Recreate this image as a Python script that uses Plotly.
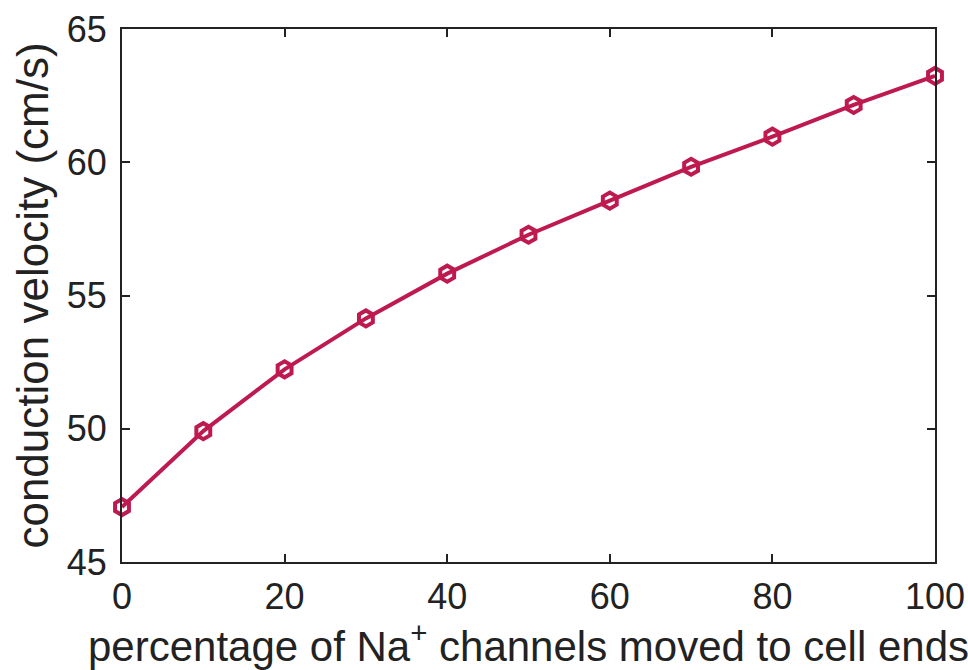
import plotly.graph_objects as go

# percentage of Na+ channels relocated to the cell ends
pct_moved = [0, 10, 20, 30, 40, 50, 60, 70, 80, 90, 100]
# resulting conduction velocity (cm/s)
velocity = [47.06, 49.91, 52.23, 54.14, 55.82, 57.28, 58.56, 59.83, 60.96, 62.15, 63.24]

x_ticks = [0, 20, 40, 60, 80, 100]
y_ticks = [45, 50, 55, 60, 65]

line_color = "#BE1A50"
axis_color = "#222222"
font_family = "Liberation Sans, Arial, sans-serif"

fig = go.Figure(
    go.Scatter(
        x=pct_moved,
        y=velocity,
        mode="lines+markers",
        line=dict(color=line_color, width=4),
        marker=dict(symbol="hexagon-open", size=16, color=line_color,
                    line=dict(width=4, color=line_color)),
        cliponaxis=False,
    )
)

axis_common = dict(
    showline=True, linecolor=axis_color, linewidth=2, mirror="ticks",
    ticks="inside", ticklen=8, tickwidth=1.5, tickcolor=axis_color,
    showgrid=False, zeroline=False,
    tickfont=dict(family=font_family, size=36, color=axis_color),
)

fig.update_xaxes(
    range=[0, 100], tickvals=x_ticks, ticklabelstandoff=2, **axis_common,
    title=dict(text="percentage of Na<sup>+</sup> channels moved to cell ends",
               font=dict(family=font_family, size=42, color=axis_color), standoff=9),
)
fig.update_yaxes(
    range=[45, 65], tickvals=y_ticks, ticklabelstandoff=6, **axis_common,
    title=dict(text="conduction velocity (cm/s)",
               font=dict(family=font_family, size=44, color=axis_color), standoff=4),
)

fig.update_layout(
    width=968, height=670,
    margin=dict(l=122, r=33, t=29, b=108, autoexpand=False),
    plot_bgcolor="white", paper_bgcolor="white",
    showlegend=False,
)

fig.write_html("out.html")
